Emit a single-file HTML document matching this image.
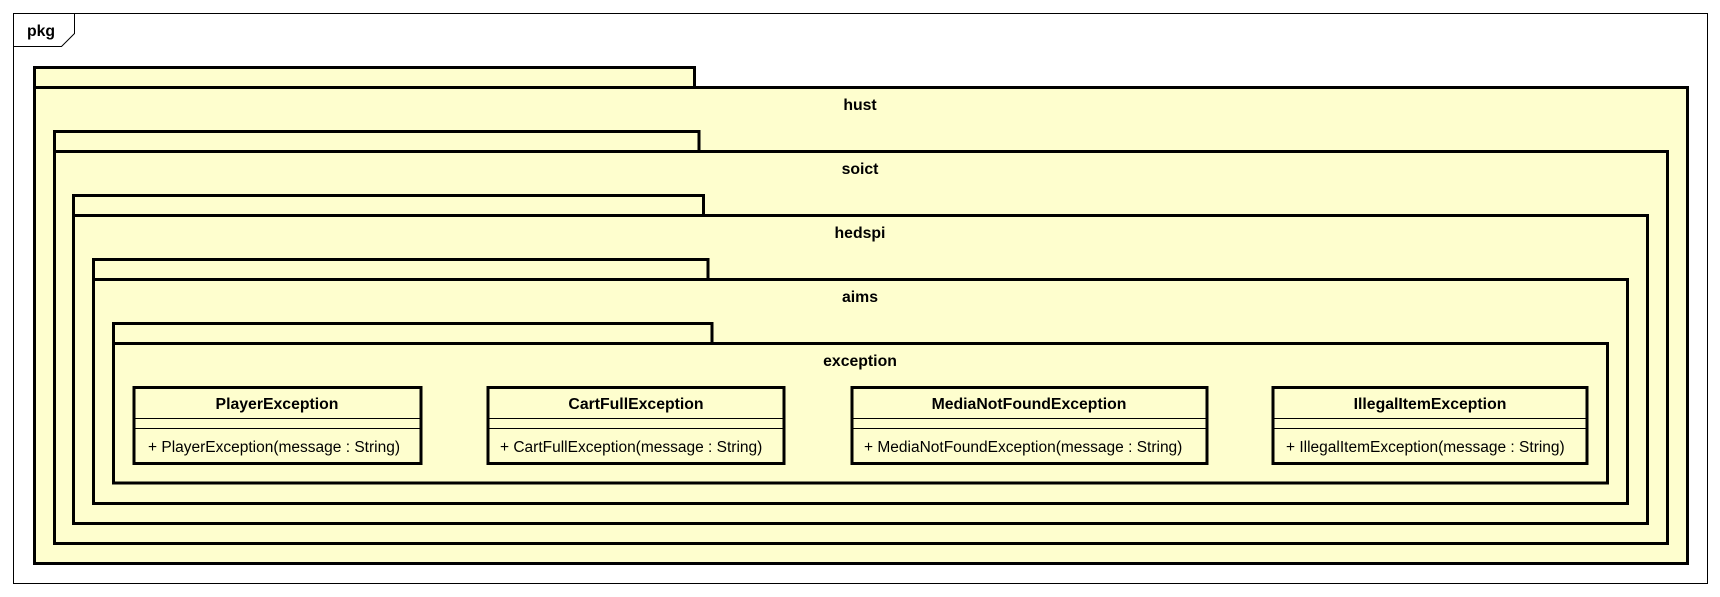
<!DOCTYPE html>
<html><head><meta charset="utf-8"><style>
html,body{margin:0;padding:0;background:#fff;}
svg{display:block;}
text{font-family:"Liberation Sans",Arial,sans-serif;fill:#000;}
.t{font-weight:bold;font-size:15.8px;}
.m{font-size:15.5px;}
</style></head><body>
<svg width="1720" height="597" viewBox="0 0 1720 597" xmlns="http://www.w3.org/2000/svg">
<rect x="13.5" y="13.5" width="1694" height="570" fill="#fff" stroke="#000" stroke-width="1"/>
<path d="M13.5 46.5 H61.5 L74.5 33.5 V13.5" fill="none" stroke="#000" stroke-width="1"/>
<text class="t" x="27" y="36">pkg</text>
<g fill="#FEFECE" stroke="#000" stroke-width="3">
<rect x="34.5" y="67.5" width="660" height="20"/>
<rect x="34.5" y="87.5" width="1653" height="476"/>
<rect x="54.5" y="131.5" width="644.5" height="20"/>
<rect x="54.5" y="151.5" width="1613" height="392"/>
<rect x="73.5" y="195.5" width="630" height="20"/>
<rect x="73.5" y="215.5" width="1574" height="308"/>
<rect x="93.5" y="259.5" width="614.5" height="20"/>
<rect x="93.5" y="279.5" width="1534" height="224"/>
<rect x="113.5" y="323.5" width="598.5" height="20"/>
<rect x="113.5" y="343.5" width="1494" height="139.5"/>
</g>
<g text-anchor="middle">
<text class="t" x="860" y="110">hust</text>
<text class="t" x="860" y="174">soict</text>
<text class="t" x="860" y="238">hedspi</text>
<text class="t" x="860" y="302">aims</text>
<text class="t" x="860" y="366">exception</text>
</g>
<g fill="#FEFECE" stroke="#000" stroke-width="3">
<rect x="134" y="387.5" width="287" height="76"/>
<rect x="488" y="387.5" width="296" height="76"/>
<rect x="852" y="387.5" width="355" height="76"/>
<rect x="1273" y="387.5" width="314" height="76"/>
</g>
<g stroke="#000" stroke-width="1">
<line x1="134" y1="418.5" x2="421" y2="418.5"/><line x1="134" y1="428.5" x2="421" y2="428.5"/>
<line x1="488" y1="418.5" x2="784" y2="418.5"/><line x1="488" y1="428.5" x2="784" y2="428.5"/>
<line x1="852" y1="418.5" x2="1207" y2="418.5"/><line x1="852" y1="428.5" x2="1207" y2="428.5"/>
<line x1="1273" y1="418.5" x2="1587" y2="418.5"/><line x1="1273" y1="428.5" x2="1587" y2="428.5"/>
</g>
<g text-anchor="middle">
<text class="t" x="277" y="409">PlayerException</text>
<text class="t" x="636" y="409">CartFullException</text>
<text class="t" x="1029" y="409">MediaNotFoundException</text>
<text class="t" x="1430" y="409">IllegalItemException</text>
</g>
<text class="m" x="148" y="452">+ PlayerException(message : String)</text>
<text class="m" x="500" y="452">+ CartFullException(message : String)</text>
<text class="m" x="864" y="452">+ MediaNotFoundException(message : String)</text>
<text class="m" x="1286" y="452">+ IllegalItemException(message : String)</text>
</svg>
</body></html>
